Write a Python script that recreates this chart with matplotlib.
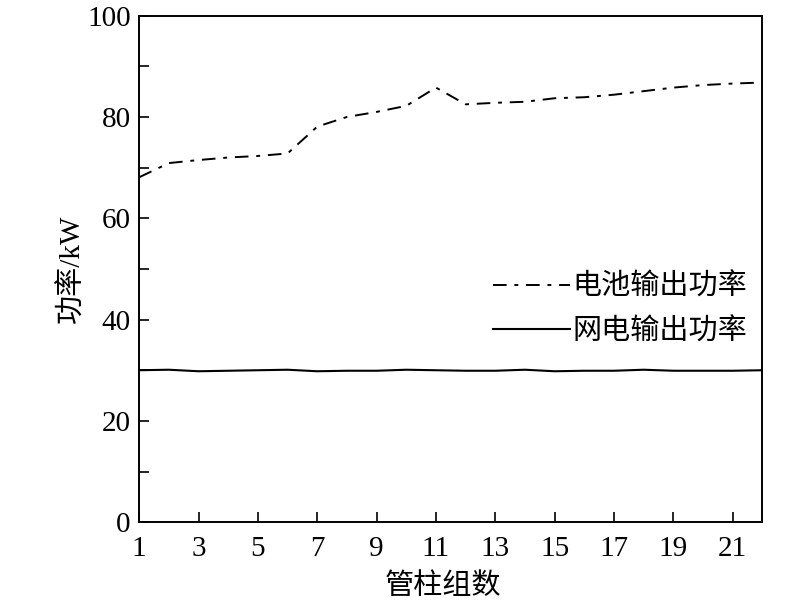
import numpy as np
import matplotlib
matplotlib.use("Agg")
import matplotlib.pyplot as plt
from matplotlib.ticker import MultipleLocator

plt.rcParams['font.family'] = ['Liberation Serif', 'Noto Sans CJK SC']

# data
groups = np.arange(1, 23)
battery = [68.1, 70.9, 71.5, 72.0, 72.3, 72.8, 78.1, 80.0, 81.0, 82.2, 85.8,
           82.5, 82.8, 83.0, 83.7, 83.9, 84.4, 85.1, 85.8, 86.3, 86.6, 86.8]
grid = [30.0, 30.1, 29.8, 29.9, 30.0, 30.1, 29.8, 29.9, 29.9, 30.1, 30.0,
        29.9, 29.9, 30.1, 29.8, 29.9, 29.9, 30.1, 29.9, 29.9, 29.9, 30.0]
xticks = list(range(1, 22, 2))

fs = 21

fig = plt.figure(figsize=(8.0, 6.03), dpi=100)
ax = fig.add_axes([0.174, 0.134, 0.779, 0.84])

ax.plot(groups, battery, color='black', lw=1.4, ls=(0, (7, 4, 2, 4)),
        label='电池输出功率')
ax.plot(groups, grid, color='black', lw=1.5, label='网电输出功率')

ax.set_xlim(1, 22)
ax.set_ylim(0, 100)
ax.set_xticks(xticks)
ax.yaxis.set_major_locator(MultipleLocator(20))
ax.yaxis.set_minor_locator(MultipleLocator(10))
ax.tick_params(which='both', direction='in', labelsize=fs, width=1.2, length=7)
ax.tick_params(axis='x', pad=10)
ax.tick_params(axis='y', pad=6)
for s in ax.spines.values():
    s.set_linewidth(1.4)

ax.set_xlabel('管柱组数', fontsize=fs, labelpad=8, x=0.487)
ax.set_ylabel('功率/kW', fontsize=fs, labelpad=1)

ax.legend(loc='upper right', bbox_to_anchor=(1.009, 0.531), frameon=False,
          fontsize=fs, handlelength=2.65, handletextpad=0.1,
          labelspacing=0.6, borderaxespad=0.3)

fig.savefig('out.png', dpi=100)
